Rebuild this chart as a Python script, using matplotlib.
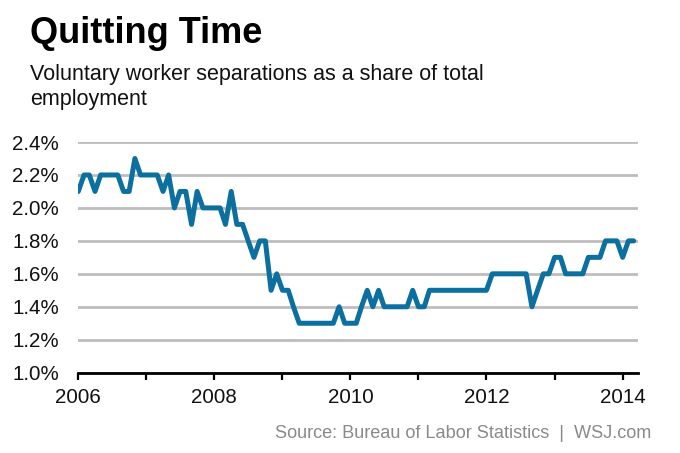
import numpy as np
import pandas as pd
import matplotlib
matplotlib.use("Agg")
from matplotlib import pyplot as plt
import matplotlib.dates as mdates

plt.rcParams['font.family'] = ['Liberation Sans', 'DejaVu Sans']

# monthly quits rate (%), Jan 2006 onwards
quits = [2.1, 2.2, 2.2, 2.1, 2.2, 2.2, 2.2, 2.2, 2.1, 2.1, 2.3, 2.2,   # 2006
         2.2, 2.2, 2.2, 2.1, 2.2, 2.0, 2.1, 2.1, 1.9, 2.1, 2.0, 2.0,   # 2007
         2.0, 2.0, 1.9, 2.1, 1.9, 1.9, 1.8, 1.7, 1.8, 1.8, 1.5, 1.6,   # 2008
         1.5, 1.5, 1.4, 1.3, 1.3, 1.3, 1.3, 1.3, 1.3, 1.3, 1.4, 1.3,   # 2009
         1.3, 1.3, 1.4, 1.5, 1.4, 1.5, 1.4, 1.4, 1.4, 1.4, 1.4, 1.5,   # 2010
         1.4, 1.4, 1.5, 1.5, 1.5, 1.5, 1.5, 1.5, 1.5, 1.5, 1.5, 1.5,   # 2011
         1.5, 1.6, 1.6, 1.6, 1.6, 1.6, 1.6, 1.6, 1.4, 1.5, 1.6, 1.6,   # 2012
         1.7, 1.7, 1.6, 1.6, 1.6, 1.6, 1.7, 1.7, 1.7, 1.8, 1.8, 1.8,   # 2013
         1.7, 1.8, 1.8]                                                # 2014
months = pd.date_range('2006-01-01', periods=len(quits), freq='MS')

year_ticks = list(range(2006, 2015))
year_labels = [str(y) if y % 2 == 0 else '' for y in year_ticks]
y_ticks = [1.0, 1.2, 1.4, 1.6, 1.8, 2.0, 2.2, 2.4]

fig = plt.figure(figsize=(6.8, 4.53), dpi=100)
ax = fig.add_axes([0.1151, 0.1773, 0.8236, 0.5092])

ax.plot(months, quits, color='#0b6fa0', lw=3.6, solid_joinstyle='round',
        solid_capstyle='round', zorder=3)

ax.set_ylim(1.0, 2.4)
ax.set_xlim(pd.Timestamp('2006-01-01'), pd.Timestamp('2014-03-26'))

ax.set_yticks(y_ticks)
ax.set_yticklabels(['%.1f%%' % v for v in y_ticks])
ax.set_xticks([pd.Timestamp('%d-01-01' % y) for y in year_ticks])
ax.set_xticklabels(year_labels)

ax.yaxis.grid(True, color='#bdbdbd', lw=2)
ax.set_axisbelow(True)
for s in ['top', 'right', 'left']:
    ax.spines[s].set_visible(False)
ax.spines['bottom'].set_linewidth(2)
ax.spines['bottom'].set_color('black')
ax.spines['bottom'].set_zorder(4)

ax.tick_params(axis='y', length=0, pad=14, labelsize=14.8, colors='#111111')
ax.tick_params(axis='x', length=5, width=1.6, direction='out', pad=6,
               labelsize=14.8, colors='black')
for lab in ax.get_xticklabels():
    lab.set_color('#111111')

fig.text(30 / 680, 1 - 43 / 453, 'Quitting Time', fontsize=26, fontweight='bold',
         ha='left', va='baseline', color='black')
fig.text(30 / 680, 1 - 80 / 453, 'Voluntary worker separations as a share of total',
         fontsize=15.5, ha='left', va='baseline', color='#111111')
fig.text(30 / 680, 1 - 105 / 453, 'employment',
         fontsize=15.5, ha='left', va='baseline', color='#111111')
fig.text(651 / 680, 1 - 438 / 453, 'Source: Bureau of Labor Statistics  |  WSJ.com',
         fontsize=13.1, ha='right', va='baseline', color='#8a8a8a')

fig.savefig('out.png', dpi=100)
